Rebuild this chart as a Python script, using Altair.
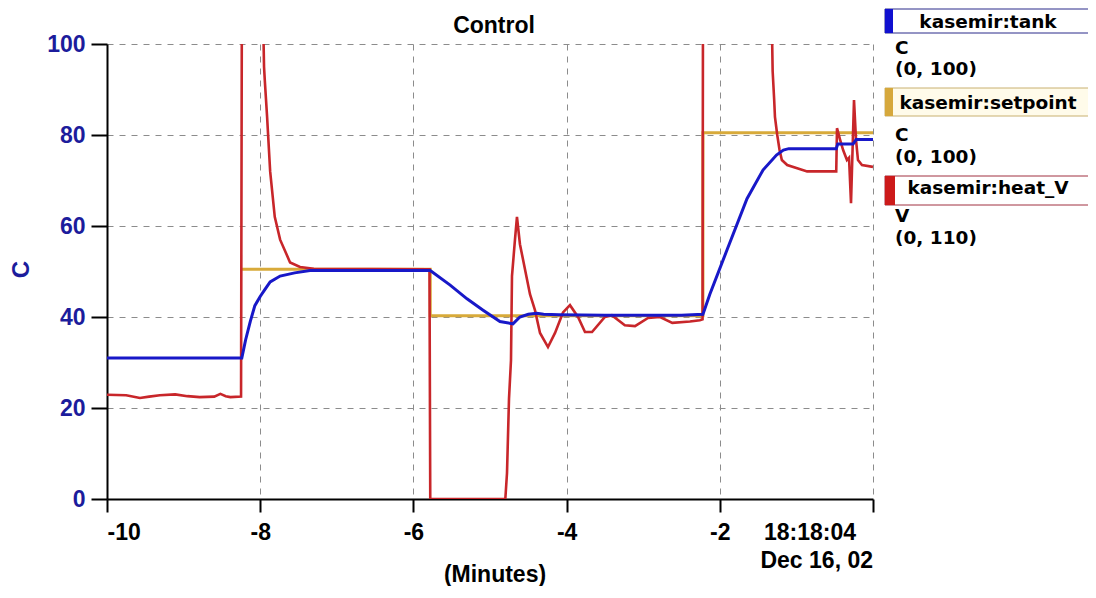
import altair as alt
import pandas as pd

# ---------------- data (minutes before 18:18:04, values on the C axis) ----------------
tank_t = [-10, -8.24, -8.19, -8.13, -8.07, -8.00, -7.94, -7.87, -7.74, -7.55, -7.35,
          -5.78, -5.52, -5.30, -5.09, -4.87, -4.70, -4.61, -4.50, -4.39, -4.30, -4.10,
          -3.50, -3.00, -2.50, -2.22, -2.13, -1.90, -1.645, -1.436, -1.26, -1.17, -1.10,
          -0.48, -0.46, -0.26, -0.22, 0]
tank_v = [31, 31, 35, 39, 42.5, 44.5, 46, 47.7, 49, 49.7, 50.2,
          50.2, 47, 44, 41.5, 39, 38.5, 40, 40.6, 40.8, 40.6, 40.5,
          40.4, 40.4, 40.4, 40.6, 45, 55, 66, 72.3, 75.6, 76.7, 77,
          77, 78, 78, 79, 79]

set_t = [-8.24, -5.78, -5.78, -2.22, -2.22, 0]
set_v = [50.5, 50.5, 40.3, 40.3, 80.5, 80.5]

heat_t = [-10, -9.75, -9.57, -9.45, -9.31, -9.11, -8.95, -8.79, -8.60, -8.52, -8.45, -8.39, -8.25,
          -8.24, -7.96, -7.95, -7.94, -7.91, -7.87, -7.81, -7.74, -7.61, -7.48, -7.30,
          -5.79, -5.78, -4.80, -4.778, -4.752, -4.726, -4.713, -4.674, -4.648, -4.609,
          -4.478, -4.413, -4.347, -4.243, -4.151, -4.047, -3.956, -3.851, -3.760, -3.668,
          -3.50, -3.41, -3.24, -3.107, -2.937, -2.78, -2.62, -2.39, -2.26, -2.225,
          -2.22, -1.32, -1.31, -1.29, -1.28, -1.25, -1.22, -1.19, -1.12, -0.99, -0.86,
          -0.48, -0.47, -0.43, -0.39, -0.34, -0.313, -0.287, -0.248, -0.222, -0.196, -0.144, 0]
heat_v = [22.9, 22.8, 22.2, 22.5, 22.8, 23.0, 22.6, 22.4, 22.5, 23.1, 22.6, 22.4, 22.5,
          104, 104, 95, 92, 84, 72, 62, 57, 52, 51, 50.6,
          50.5, 0, 0, 5.7, 22, 30.5, 49, 57, 62, 56,
          45, 41.5, 36.5, 33.4, 36.5, 41, 42.6, 40, 36.7, 36.7,
          40, 40.4, 38.2, 38, 39.8, 40, 38.7, 39, 39.3, 39.5,
          104, 104, 94, 87.7, 84, 80, 76.7, 74.5, 73.4, 72.7, 72,
          72, 81.5, 79, 76.7, 74.5, 75, 65, 87.7, 79, 74.5, 73.4, 73]

x_ticks = [-10, -8, -6, -4, -2, 0]
y_ticks = [0, 20, 40, 60, 80, 100]
end_label = ["18:18:04", "Dec 16, 02"]
title_text = "Control"
x_title = "(Minutes)"
y_title = "C"
legend_names = ["kasemir:tank", "kasemir:setpoint", "kasemir:heat_V"]
legend_units = ["C", "C", "V"]
legend_ranges = ["(0, 100)", "(0, 100)", "(0, 110)"]

# ---------------- styling ----------------
BLUE = "#1818c8"
GOLD = "#d8aa3a"
RED = "#c8262a"
NAVY = "#1c1c9c"
GRID = "#8c8c8c"
FONT = "Liberation Sans"
LFONT = "DejaVu Sans"

W, H = 766, 455

tank_df = pd.DataFrame({"t": tank_t, "v": tank_v})
set_df = pd.DataFrame({"t": set_t, "v": set_v})
heat_df = pd.DataFrame({"t": heat_t, "v": heat_v})

label_expr = "datum.value == 0 ? '' : '' + datum.value"

x_enc = alt.X(
    "t:Q",
    title=None,
    scale=alt.Scale(domain=[-10, 0], nice=False, zero=False),
    axis=alt.Axis(
        values=x_ticks, grid=True, gridColor=GRID, gridDash=[6, 6], gridWidth=1,
        domainColor="black", domainWidth=2, tickColor="black", tickWidth=2, tickSize=13,
        labelFont=FONT, labelFontSize=23, labelFontWeight="bold", labelColor="black",
        labelPadding=9, labelFlush=True, labelOverlap=False,
        labelExpr=label_expr,
    ),
)
y_enc = alt.Y(
    "v:Q",
    title=None,
    scale=alt.Scale(domain=[0, 100], nice=False, zero=False),
    axis=alt.Axis(
        values=y_ticks, grid=True, gridColor=GRID, gridDash=[6, 6], gridWidth=1,
        domainColor="black", domainWidth=2, tickColor="black", tickWidth=2, tickSize=16,
        labelFont=FONT, labelFontSize=23, labelFontWeight="bold", labelColor=NAVY,
        labelPadding=6, labelOverlap=False,
    ),
)

set_line = alt.Chart(set_df).mark_line(color=GOLD, strokeWidth=3, clip=True).encode(x=x_enc, y=y_enc)
heat_line = alt.Chart(heat_df).mark_line(color=RED, strokeWidth=2.6, clip=True).encode(x=x_enc, y=y_enc)
tank_line = alt.Chart(tank_df).mark_line(color=BLUE, strokeWidth=3, clip=True).encode(x=x_enc, y=y_enc)

one = alt.Data(values=[{}])


def txt(s, x, y, size=23, font=FONT, color="black", align="center", angle=0, baseline="alphabetic"):
    mk = dict(font=font, fontSize=size, fontWeight="bold", color=color, align=align, baseline=baseline)
    if angle:
        mk["angle"] = angle
    return alt.Chart(one).mark_text(**mk).encode(
        x=alt.value(x), y=alt.value(y), text=alt.value(s)
    )


def box(x1, x2, y1, y2, fill, stroke, sw=1):
    return alt.Chart(one).mark_rect(fill=fill, stroke=stroke, strokeWidth=sw).encode(
        x=alt.value(x1), x2=alt.value(x2), y=alt.value(y1), y2=alt.value(y2)
    )


deco = [
    txt(title_text, 387, -11),
    txt(x_title, 388, 538),
    txt(y_title, -85, 225.5, size=24, color=NAVY, angle=270, baseline="middle"),
    txt(end_label[0], 703, 496),
    txt(end_label[1], 766, 524, align="right"),
]

box_tops = [-35, 44, 132]
box_bots = [-11, 72, 161]
bar_cols = ["#1010d0", "#d6a83c", "#cc1a1a"]
bar_w = [8, 8, 10]
box_fill = ["#ffffff", "#fffbea", "#ffffff"]
box_stroke = ["#2a2a8a", "#c8b070", "#a03040"]
name_base = [-16, 65, 150]
unit_base = [10, 97, 178]
range_base = [31, 119, 200]

for i in range(3):
    deco.append(box(778, 995, box_tops[i], box_bots[i], box_fill[i], box_stroke[i]))
    deco.append(box(778, 778 + bar_w[i], box_tops[i], box_bots[i], bar_cols[i], bar_cols[i], 0))
    deco.append(txt(legend_names[i], 881, name_base[i], size=18.5, font=LFONT))
    deco.append(txt(legend_units[i], 788, unit_base[i], size=18.5, font=LFONT, align="left"))
    deco.append(txt(legend_ranges[i], 788, range_base[i], size=18.5, font=LFONT, align="left"))

chart = alt.layer(set_line, heat_line, tank_line, *deco).properties(
    width=W,
    height=H,
    autosize=alt.AutoSizeParams(type="none"),
    padding={"left": 99, "top": 36, "right": 215, "bottom": 87},
    background="white",
).configure_view(strokeWidth=0)

chart.save("out.html", embed_options={"renderer": "svg", "actions": False})
